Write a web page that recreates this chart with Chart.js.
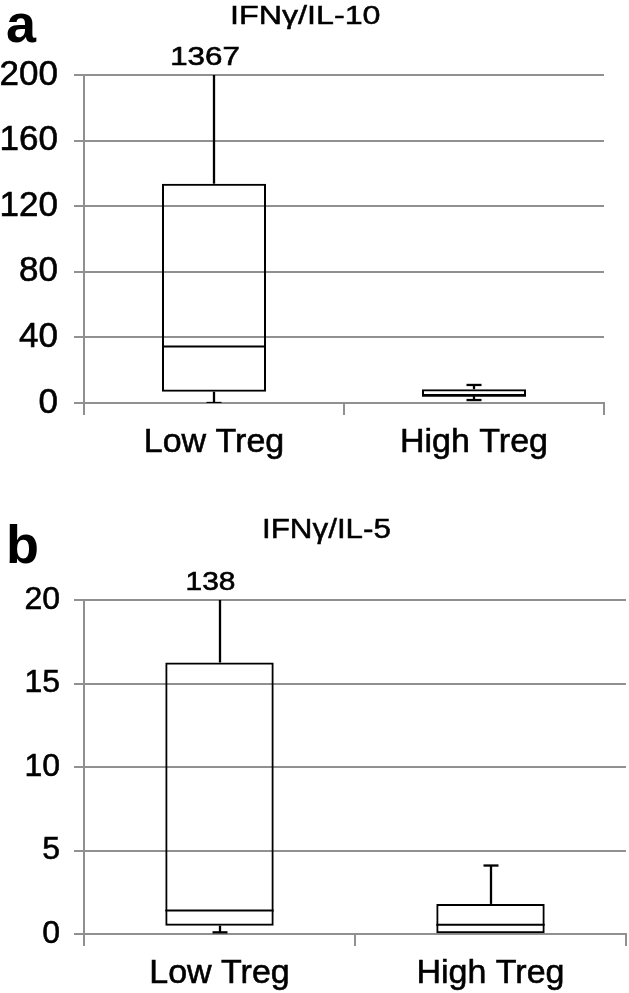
<!DOCTYPE html>
<html>
<head>
<meta charset="utf-8">
<script src="https://cdn.jsdelivr.net/npm/chart.js@4"></script>
<style>
  body { margin: 0; background: #fff; }
  #wrap { position: relative; width: 629px; height: 993px; overflow: hidden; font-family: "Liberation Sans", Arial, sans-serif; color: #000; }
  canvas { position: absolute; left: 0; }
  .letter { position: absolute; font-weight: bold; font-size: 54px; line-height: 1; }
  .title { position: absolute; line-height: 1; white-space: nowrap; transform-origin: 0 0; -webkit-text-stroke: 0.5px #000; }
</style>
</head>
<body>
<div id="wrap">
  <canvas id="chartA" width="629" height="480" style="top:0"></canvas>
  <canvas id="chartB" width="629" height="513" style="top:480px"></canvas>
  <div class="letter" style="left:6px; top:-4px">a</div>
  <div class="letter" style="left:6px; top:517px">b</div>
  <div class="title" style="left:230px; top:2px; font-size:26px; transform:scaleX(1.24)">IFNγ/IL-10</div>
  <div class="title" style="left:262px; top:515px; font-size:28px; transform:scaleX(1.12)">IFNγ/IL-5</div>
</div>
<script>
// categories shared by both panels
const categories = ["Low Treg", "High Treg"];

// panel a: IFNγ/IL-10 (box plot five-number summary)
const aMin = [0, 1.8];
const aQ1 = [6.9, 4.3];
const aMedian = [34.4, 4.4];
const aQ3 = [133.7, 8.4];
const aMax = [1367, 11.0];
const aTicks = [0, 40, 80, 120, 160, 200];

// panel b: IFNγ/IL-5
const bMin = [0.1, 0.05];
const bQ1 = [0.5, 0.05];
const bMedian = [1.4, 0.56];
const bQ3 = [16.26, 1.8];
const bMax = [138, 4.1];
const bTicks = [0, 5, 10, 15, 20];

const FONT = "'Liberation Sans', Arial, sans-serif";
const GRID = "#909090";
const BOX_W = 2;
const WHISKER_W = 2.3;

// whiskers, caps, medians and off-scale max labels
const boxExtras = {
  id: "boxExtras",
  afterDatasetsDraw(chart, args, opts) {
    const { ctx, chartArea, scales: { y } } = chart;
    const bars = chart.getDatasetMeta(0).data;
    const vline = (x, y1, y2) => { ctx.beginPath(); ctx.moveTo(x, y1); ctx.lineTo(x, y2); ctx.stroke(); };
    const hline = (x1, x2, yy) => { ctx.beginPath(); ctx.moveTo(x1, yy); ctx.lineTo(x2, yy); ctx.stroke(); };

    ctx.save();
    ctx.beginPath();
    ctx.rect(chartArea.left, chartArea.top, chartArea.right - chartArea.left, chartArea.bottom - chartArea.top);
    ctx.clip();
    ctx.strokeStyle = "#000";
    ctx.lineWidth = WHISKER_W;
    opts.median.forEach((m, i) => {
      const bar = bars[i];
      const cx = Math.round(bar.x);
      const half = bar.width / 2;
      const capHalf = 7.5;
      // upper whisker
      vline(cx, y.getPixelForValue(opts.q3[i]), y.getPixelForValue(opts.max[i]));
      hline(cx - capHalf, cx + capHalf, y.getPixelForValue(opts.max[i]));
      // lower whisker
      if (opts.min[i] < opts.q1[i]) {
        vline(cx, y.getPixelForValue(opts.q1[i]), y.getPixelForValue(opts.min[i]));
        hline(cx - capHalf, cx + capHalf, y.getPixelForValue(opts.min[i]));
      }
      // median
      ctx.lineWidth = BOX_W;
      hline(bar.x - half, bar.x + half, y.getPixelForValue(m));
      ctx.lineWidth = WHISKER_W;
    });
    ctx.restore();

    // value labels for whiskers running off the top of the axis
    ctx.save();
    ctx.fillStyle = "#000";
    ctx.strokeStyle = "#000";
    ctx.lineWidth = 0.6;
    ctx.font = opts.labelSize + "px " + FONT;
    ctx.textAlign = "center";
    ctx.textBaseline = "alphabetic";
    opts.max.forEach((v, i) => {
      if (v <= y.max) return;
      ctx.save();
      ctx.translate(bars[i].x - 9, chartArea.top - 10);
      ctx.scale(opts.labelStretch, 1);
      ctx.fillText(String(v), 0, 0);
      ctx.strokeText(String(v), 0, 0);
      ctx.restore();
    });
    ctx.restore();
  }
};

function makeBoxChart(canvasId, p) {
  return new Chart(document.getElementById(canvasId), {
    type: "bar",
    data: {
      labels: categories,
      datasets: [{
        data: p.q1.map((v, i) => [v, p.q3[i]]),
        backgroundColor: "rgba(0,0,0,0)",
        borderColor: "#000",
        borderWidth: BOX_W,
        borderSkipped: false,
        barPercentage: 0.4,
        categoryPercentage: 1
      }]
    },
    options: {
      responsive: false,
      animation: false,
      layout: { padding: p.padding },
      plugins: {
        legend: { display: false },
        tooltip: { enabled: false },
        title: { display: false },
        boxExtras: {
          min: p.min, q1: p.q1, median: p.median, q3: p.q3, max: p.max,
          labelSize: p.labelSize, labelStretch: p.labelStretch
        }
      },
      scales: {
        x: {
          offset: true,
          afterFit: (s) => { s.height = p.xHeight; },
          grid: { offset: true, drawOnChartArea: false, drawTicks: true, tickLength: 12, color: GRID, lineWidth: 2 },
          border: { display: true, color: GRID, width: 2 },
          ticks: {
            color: "#000", font: { family: FONT, size: 34 }, padding: 7, maxRotation: 0,
            textStrokeColor: "#000", textStrokeWidth: 0.6
          }
        },
        y: {
          min: p.ticks[0],
          max: p.ticks[p.ticks.length - 1],
          afterFit: (s) => { s.width = 84; },
          afterBuildTicks: (s) => { s.ticks = p.ticks.map((v) => ({ value: v })); },
          grid: { color: GRID, lineWidth: 2, drawTicks: true, tickLength: 10 },
          border: { display: true, color: GRID, width: 2 },
          ticks: {
            color: "#000", font: { family: FONT, size: p.tickSize }, padding: p.tickPad,
            textStrokeColor: "#000", textStrokeWidth: 0.6
          }
        }
      }
    },
    plugins: [boxExtras]
  });
}

makeBoxChart("chartA", {
  min: aMin, q1: aQ1, median: aMedian, q3: aQ3, max: aMax, ticks: aTicks,
  padding: { top: 75, right: 25, left: 0, bottom: 0 },
  xHeight: 77, tickSize: 35, tickPad: 16, labelSize: 25, labelStretch: 1.25
});

makeBoxChart("chartB", {
  min: bMin, q1: bQ1, median: bMedian, q3: bQ3, max: bMax, ticks: bTicks,
  padding: { top: 120, right: 3, left: 0, bottom: 0 },
  xHeight: 59, tickSize: 32, tickPad: 14, labelSize: 26, labelStretch: 1.15
});
</script>
</body>
</html>
